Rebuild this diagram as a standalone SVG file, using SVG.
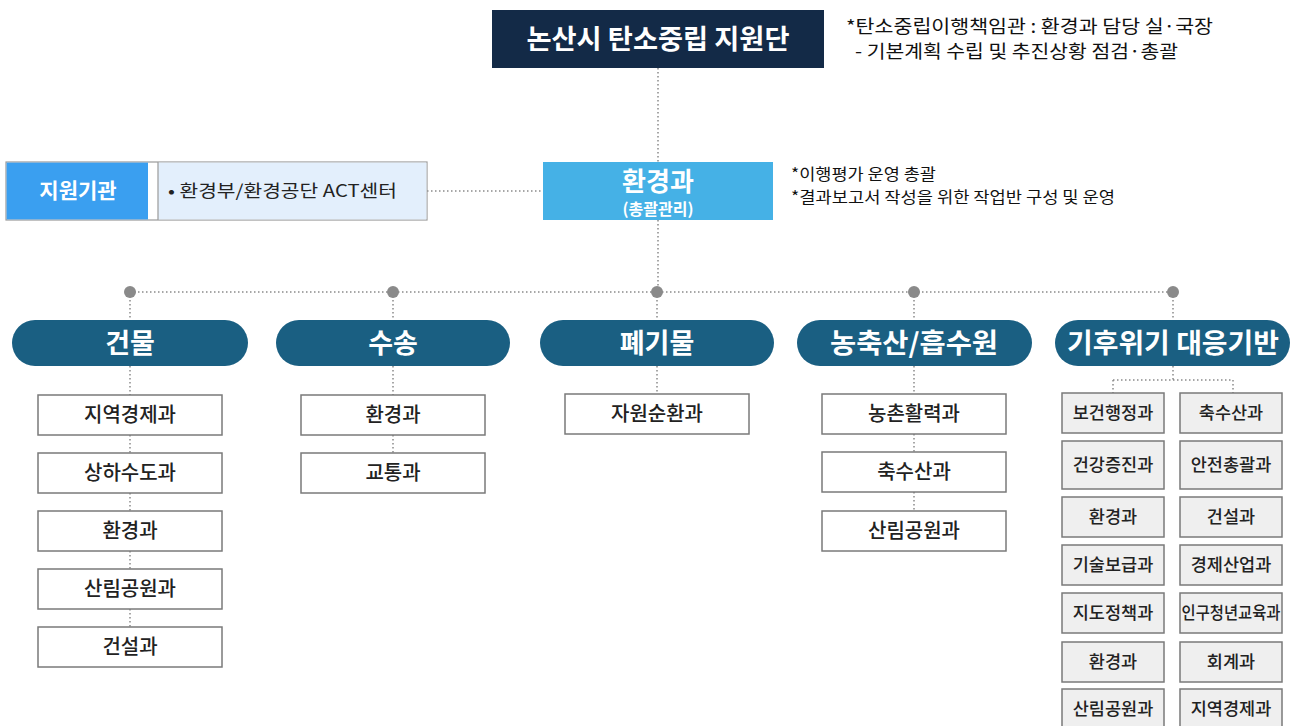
<svg xmlns="http://www.w3.org/2000/svg" width="1292" height="726" viewBox="0 0 1292 726">
<style>
.kr{font-family:"Noto Sans CJK KR","Noto Sans",sans-serif;}
.note{font-family:"Noto Sans CJK KR","Noto Sans",sans-serif;font-size:18px;fill:#111;}
.note2{font-family:"Noto Sans CJK KR","Noto Sans",sans-serif;font-size:16px;fill:#111;}
.pill{fill:#1a5f82;}
.pilltxt{font-family:"Noto Sans CJK KR","Noto Sans",sans-serif;font-size:27px;font-weight:700;fill:#fff;text-anchor:middle;}
.box{fill:#fff;stroke:#7a7a7a;stroke-width:1.5;}
.gbox{fill:#efefef;stroke:#7a7a7a;stroke-width:1.5;}
.btxt{font-family:"Noto Sans CJK KR","Noto Sans",sans-serif;font-size:20px;font-weight:500;fill:#222;text-anchor:middle;}
.stxt{font-family:"Noto Sans CJK KR","Noto Sans",sans-serif;font-size:17.5px;font-weight:500;fill:#222;text-anchor:middle;}
.dot{stroke:#8a8a8a;stroke-width:1.5;stroke-dasharray:1.5 2.5;fill:none;}
.knot{fill:#8a8a8a;}
</style>

<g id="connectors">
<path class="dot" d="M658 68V292"/>
<path class="dot" d="M427 191H543"/>
<path class="dot" d="M130 292H1173"/>
<path class="dot" d="M130 292V320M130 366V395M130 435V453M130 493V511M130 551V569M130 609V627"/>
<path class="dot" d="M393 292V320M393 366V395M393 435V453"/>
<path class="dot" d="M657 292V320M657 366V394"/>
<path class="dot" d="M914 292V320M914 366V394M914 434V452M914 492V511"/>
<path class="dot" d="M1173 292V320M1173 366V380M1113 380H1233M1113 380V393M1233 380V393"/>
<circle class="knot" cx="130" cy="292" r="6"/>
<circle class="knot" cx="393" cy="292" r="6"/>
<circle class="knot" cx="657" cy="292" r="6"/>
<circle class="knot" cx="914" cy="292" r="6"/>
<circle class="knot" cx="1173" cy="292" r="6"/>
</g>

<g id="title">
<rect x="492" y="10" width="332" height="58" fill="#132a47"/>
<text class="kr" x="658" y="49" font-size="27" font-weight="700" fill="#fff" text-anchor="middle" textLength="263" lengthAdjust="spacingAndGlyphs">논산시 탄소중립 지원단</text>
</g>
<g id="title-note">
<text class="note" x="846" y="33" textLength="367" lengthAdjust="spacingAndGlyphs">*탄소중립이행책임관 : 환경과 담당 실·국장</text>
<text class="note" x="855" y="58" textLength="323" lengthAdjust="spacingAndGlyphs">- 기본계획 수립 및 추진상황 점검·총괄</text>
</g>

<g id="hwan">
<rect x="543" y="162" width="230" height="58" fill="#45b1e6"/>
<text class="kr" x="658" y="191" font-size="26" font-weight="700" fill="#fff" text-anchor="middle">환경과</text>
<text class="kr" x="658" y="215" font-size="16" font-weight="700" fill="#fff" text-anchor="middle">(총괄관리)</text>
</g>
<g id="hwan-note">
<text class="note2" x="791" y="180" textLength="145" lengthAdjust="spacingAndGlyphs">*이행평가 운영 총괄</text>
<text class="note2" x="791" y="203" textLength="324" lengthAdjust="spacingAndGlyphs">*결과보고서 작성을 위한 작업반 구성 및 운영</text>
</g>

<g id="support">
<rect x="6" y="162" width="421" height="58" fill="#fff" stroke="#9a9a9a" stroke-width="1.2"/>
<rect x="6.6" y="162.6" width="141.4" height="56.8" fill="#3a9ff0"/>
<rect x="158" y="162.6" width="268.4" height="56.8" fill="#e3effc"/>
<line x1="158" y1="162" x2="158" y2="220" stroke="#9a9a9a" stroke-width="1.2"/>
<text class="kr" x="78" y="198" font-size="21" font-weight="700" fill="#fff" text-anchor="middle">지원기관</text>
<text class="kr" x="168" y="197" font-size="17" fill="#222" textLength="229" lengthAdjust="spacingAndGlyphs">• 환경부/환경공단 ACT센터</text>
</g>

<g id="building">
<rect class="pill" x="12" y="320" width="236" height="46" rx="23"/>
<text class="pilltxt" x="130" y="353">건물</text>
</g>
<g id="b1"><rect class="box" x="38" y="395" width="184" height="40"/><text class="btxt" x="130" y="422">지역경제과</text></g>
<g id="b2"><rect class="box" x="38" y="453" width="184" height="40"/><text class="btxt" x="130" y="480">상하수도과</text></g>
<g id="b3"><rect class="box" x="38" y="511" width="184" height="40"/><text class="btxt" x="130" y="538">환경과</text></g>
<g id="b4"><rect class="box" x="38" y="569" width="184" height="40"/><text class="btxt" x="130" y="596">산림공원과</text></g>
<g id="b5"><rect class="box" x="38" y="627" width="184" height="40"/><text class="btxt" x="130" y="654">건설과</text></g>

<g id="transport">
<rect class="pill" x="276" y="320" width="234" height="46" rx="23"/>
<text class="pilltxt" x="393" y="353">수송</text>
</g>
<g id="t1"><rect class="box" x="301" y="395" width="184" height="40"/><text class="btxt" x="393" y="422">환경과</text></g>
<g id="t2"><rect class="box" x="301" y="453" width="184" height="40"/><text class="btxt" x="393" y="480">교통과</text></g>

<g id="waste">
<rect class="pill" x="540" y="320" width="234" height="46" rx="23"/>
<text class="pilltxt" x="657" y="353">폐기물</text>
</g>
<g id="w1"><rect class="box" x="565" y="394" width="184" height="40"/><text class="btxt" x="657" y="421">자원순환과</text></g>

<g id="agri">
<rect class="pill" x="797" y="320" width="235" height="46" rx="23"/>
<text class="pilltxt" x="914" y="353" textLength="168" lengthAdjust="spacingAndGlyphs">농축산/흡수원</text>
</g>
<g id="a1"><rect class="box" x="822" y="394" width="184" height="40"/><text class="btxt" x="914" y="421">농촌활력과</text></g>
<g id="a2"><rect class="box" x="822" y="452" width="184" height="40"/><text class="btxt" x="914" y="479">축수산과</text></g>
<g id="a3"><rect class="box" x="822" y="511" width="184" height="40"/><text class="btxt" x="914" y="538">산림공원과</text></g>

<g id="climate">
<rect class="pill" x="1055" y="320" width="235" height="46" rx="23"/>
<text class="pilltxt" x="1173" y="353" textLength="212" lengthAdjust="spacingAndGlyphs">기후위기 대응기반</text>
</g>
<g id="c1"><rect class="gbox" x="1062" y="393" width="102" height="40"/><text class="stxt" x="1113" y="419">보건행정과</text></g>
<g id="c2"><rect class="gbox" x="1062" y="441" width="102" height="48"/><text class="stxt" x="1113" y="471">건강증진과</text></g>
<g id="c3"><rect class="gbox" x="1062" y="497" width="102" height="40"/><text class="stxt" x="1113" y="523">환경과</text></g>
<g id="c4"><rect class="gbox" x="1062" y="545" width="102" height="40"/><text class="stxt" x="1113" y="571">기술보급과</text></g>
<g id="c5"><rect class="gbox" x="1062" y="593" width="102" height="40"/><text class="stxt" x="1113" y="619">지도정책과</text></g>
<g id="c6"><rect class="gbox" x="1062" y="642" width="102" height="40"/><text class="stxt" x="1113" y="668">환경과</text></g>
<g id="c7"><rect class="gbox" x="1062" y="689" width="102" height="40"/><text class="stxt" x="1113" y="715">산림공원과</text></g>
<g id="d1"><rect class="gbox" x="1180" y="393" width="102" height="40"/><text class="stxt" x="1231" y="419">축수산과</text></g>
<g id="d2"><rect class="gbox" x="1180" y="441" width="102" height="48"/><text class="stxt" x="1231" y="471">안전총괄과</text></g>
<g id="d3"><rect class="gbox" x="1180" y="497" width="102" height="40"/><text class="stxt" x="1231" y="523">건설과</text></g>
<g id="d4"><rect class="gbox" x="1180" y="545" width="102" height="40"/><text class="stxt" x="1231" y="571">경제산업과</text></g>
<g id="d5"><rect class="gbox" x="1180" y="593" width="102" height="40"/><text class="stxt" x="1231" y="619" textLength="99" lengthAdjust="spacingAndGlyphs">인구청년교육과</text></g>
<g id="d6"><rect class="gbox" x="1180" y="642" width="102" height="40"/><text class="stxt" x="1231" y="668">회계과</text></g>
<g id="d7"><rect class="gbox" x="1180" y="689" width="102" height="40"/><text class="stxt" x="1231" y="715">지역경제과</text></g>
</svg>
